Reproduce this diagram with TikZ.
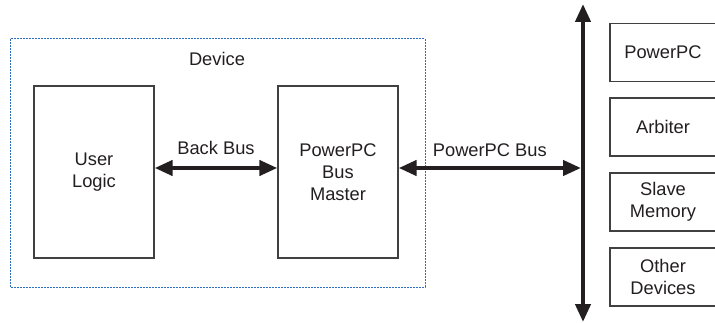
\documentclass[tikz,border=0pt]{standalone}
\usepackage{fontspec}
\setmainfont{Liberation Sans}
\usetikzlibrary{arrows.meta}
\definecolor{boxline}{HTML}{404040}
\definecolor{txt}{HTML}{231F20}
\definecolor{dev}{HTML}{2F6DBF}
\begin{document}
\begin{tikzpicture}[x=1pt,y=-1pt,
  every node/.style={font=\fontsize{18.3}{22}\selectfont, text=txt, align=center, inner sep=0pt},
  blk/.style={draw=boxline, line width=1.3pt, fill=white},
  bus/.style={line width=4.2pt, draw=txt, {Triangle[length=18pt,width=15pt]}-{Triangle[length=18pt,width=15pt]}},
  devbox/.style={draw=dev, line width=1pt, dash pattern=on 1.6pt off 1.4pt}]
\useasboundingbox (0,0) rectangle (715,323);
\draw[devbox] (10,39) rectangle (425,287);
\node (device) at (217,59) {Device};
\node[blk, minimum width=120pt, minimum height=172pt] (user) at (94,172) {User\\Logic};
\node[blk, minimum width=120pt, minimum height=172pt] (master) at (338,172) {PowerPC\\Bus\\Master};
\coordinate (top) at (583,4);
\coordinate (bottom) at (583,322);
\coordinate (tap) at (581,168);
\draw[bus] (user.east |- tap) -- (master.west |- tap) node[midway, above=11pt] (backbus) {Back Bus};
\draw[bus] (top) -- (bottom);
\draw[bus] (master.east |- tap) -- (tap) node[midway, above=9.5pt] (ppcbus) {PowerPC Bus};
\node[blk, minimum width=106pt, minimum height=58pt] (ppc) at (663,52.5) {PowerPC};
\node[blk, minimum width=106pt, minimum height=58pt] (arb) at (663,127) {Arbiter};
\node[blk, minimum width=106pt, minimum height=58pt] (mem) at (663,202) {Slave\\Memory};
\node[blk, minimum width=106pt, minimum height=58pt] (other) at (663,277) {Other\\Devices};
\end{tikzpicture}
\end{document}
